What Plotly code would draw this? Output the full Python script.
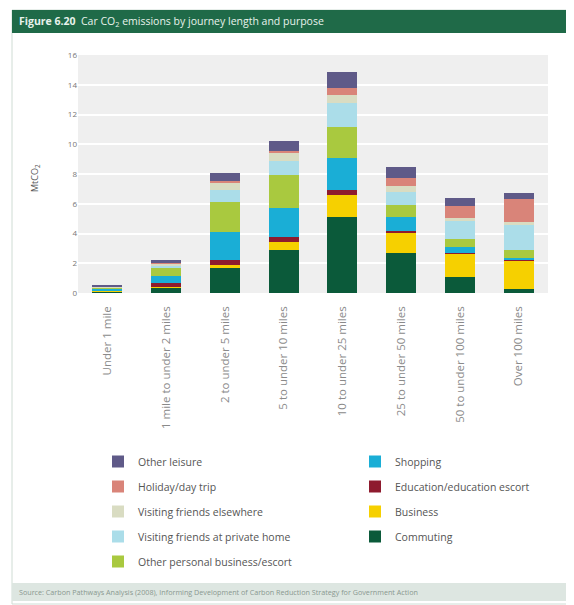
import plotly.graph_objects as go

categories = ["Under 1 mile", "1 mile to under 2 miles", "2 to under 5 miles",
              "5 to under 10 miles", "10 to under 25 miles", "25 to under 50 miles",
              "50 to under 100 miles", "Over 100 miles"]

commuting       = [0.12, 0.35, 1.65, 2.90, 5.13, 2.71, 1.10, 0.27]
business        = [0.02, 0.05, 0.20, 0.50, 1.45, 1.35, 1.57, 1.92]
education       = [0.06, 0.25, 0.35, 0.35, 0.34, 0.13, 0.05, 0.07]
shopping        = [0.08, 0.50, 1.90, 1.95, 2.13, 0.94, 0.34, 0.08]
other_personal  = [0.08, 0.50, 2.00, 2.20, 2.13, 0.78, 0.56, 0.56]
visit_private   = [0.04, 0.15, 0.80, 1.00, 1.60, 0.90, 1.23, 1.66]
visit_elsewhere = [0.05, 0.15, 0.50, 0.50, 0.55, 0.40, 0.20, 0.20]
holiday         = [0.01, 0.05, 0.10, 0.15, 0.45, 0.52, 0.78, 1.57]
other_leisure   = [0.04, 0.20, 0.60, 0.70, 1.05, 0.74, 0.56, 0.38]

y_ticks = [0, 2, 4, 6, 8, 10, 12, 14, 16]

# (name, values, colour, legend, legend rank)
series = [
    ("Commuting", commuting, "#0b5a3a", "legend2", 4),
    ("Business", business, "#f6d000", "legend2", 3),
    ("Education/education escort", education, "#8e1b2e", "legend2", 2),
    ("Shopping", shopping, "#1aaed6", "legend2", 1),
    ("Other personal business/escort", other_personal, "#a9c93f", "legend", 5),
    ("Visiting friends at private home", visit_private, "#abdde9", "legend", 4),
    ("Visiting friends elsewhere", visit_elsewhere, "#d9dcc2", "legend", 3),
    ("Holiday/day trip", holiday, "#d98479", "legend", 2),
    ("Other leisure", other_leisure, "#5f5a88", "legend", 1),
]

fig = go.Figure()
for i, (name, vals, color, lg, rank) in enumerate(series):
    fig.add_trace(go.Bar(x=categories, y=vals, name=name, marker_color=color,
                         marker_line_width=0, legend=lg, legendgroup="g%d" % i,
                         legendrank=rank))

OFF = 8  # page body offset
W, H = 574 - OFF, 605 - OFF
L, R, T, B = 78 - OFF, 26, 55 - OFF, 312
pw, ph = W - L - R, H - T - B

def px(x):
    return (x - OFF - L) / pw

def py(y):
    return (H - B - (y - OFF)) / ph

shapes = [
    dict(type="rect", xref="paper", yref="paper", x0=px(12), x1=px(567), y0=py(604), y1=py(10),
         line=dict(color="#cfdcd4", width=1), fillcolor="rgba(0,0,0,0)", layer="below"),
    dict(type="rect", xref="paper", yref="paper", x0=px(12), x1=px(567), y0=py(33), y1=py(10),
         line=dict(width=0), fillcolor="#1f6a48", layer="below"),
    dict(type="rect", xref="paper", yref="paper", x0=px(12), x1=px(567), y0=py(601), y1=py(583),
         line=dict(width=0), fillcolor="#dde6e1", layer="below"),
]

annotations = [
    dict(text="<b>Figure 6.20</b>  Car CO<sub>2</sub> emissions by journey length and purpose",
         xref="paper", yref="paper", x=px(17), y=py(21), xanchor="left", yanchor="middle",
         showarrow=False, font=dict(family="Open Sans", size=10.5, color="#e8f2ec")),
    dict(text="MtCO<sub>2</sub>", xref="paper", yref="paper", x=px(35), y=py(178),
         textangle=-90, showarrow=False, xanchor="center", yanchor="middle",
         font=dict(family="Open Sans", size=9, color="#555555")),
    dict(text="Source: Carbon Pathways Analysis (2008), Informing Development of Carbon Reduction Strategy for Government Action",
         xref="paper", yref="paper", x=px(17), y=py(592), xanchor="left", yanchor="middle",
         showarrow=False, font=dict(family="Open Sans", size=7.2, color="#8a9890")),
]

fig.update_layout(
    width=W, height=H,
    margin=dict(l=L, r=R, t=T, b=B, autoexpand=False),
    barmode="stack", bargap=0.49,
    paper_bgcolor="white", plot_bgcolor="#efefef",
    font=dict(family="Open Sans", size=8, color="#666666"),
    shapes=shapes, annotations=annotations,
    xaxis=dict(tickangle=-90, showgrid=False, ticks="", showline=False, automargin=False,
               ticklabelstandoff=10, tickfont=dict(size=11.5, color="#8a8a8a")),
    yaxis=dict(range=[0, 16], tickvals=y_ticks, showgrid=True, gridcolor="white",
               gridwidth=2, zeroline=False, ticks="", automargin=False,
               tickfont=dict(size=8, color="#777777")),
    legend=dict(x=px(98), y=py(447), xanchor="left", yanchor="top", traceorder="grouped",
                tracegroupgap=6, font=dict(size=10.5, color="#555555"), bgcolor="rgba(0,0,0,0)"),
    legend2=dict(x=px(355), y=py(447), xanchor="left", yanchor="top", traceorder="grouped",
                 tracegroupgap=6, font=dict(size=10.5, color="#555555"), bgcolor="rgba(0,0,0,0)"),
    showlegend=True,
)

fig.write_html("out.html")
